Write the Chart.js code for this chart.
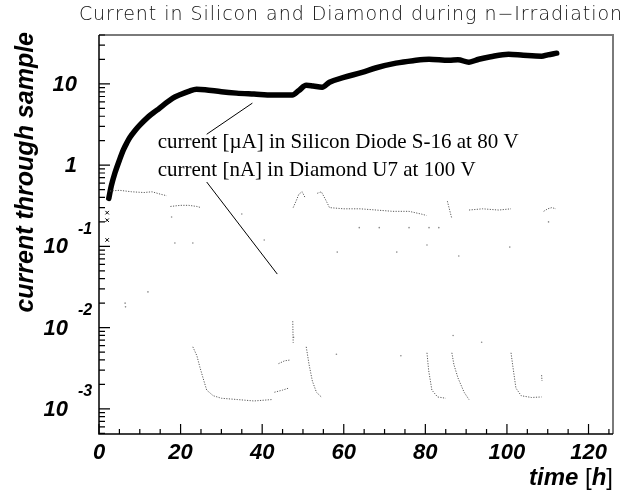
<!DOCTYPE html>
<html>
<head>
<meta charset="utf-8">
<script src="https://cdn.jsdelivr.net/npm/chart.js@4/dist/chart.umd.min.js"></script>
<style>
  html, body { margin: 0; padding: 0; background: #ffffff; }
  #wrap { width: 631px; height: 492px; }
</style>
</head>
<body>
<div id="wrap"><canvas id="c" width="631" height="492"></canvas></div>
<script>
// ---- labels ----
const chartTitle = 'Current in Silicon and Diamond during n\u2212Irradiation';
const yTitle = 'current through sample';
const legendLines = [
  'current [\u00b5A] in Silicon Diode S-16 at 80 V',
  'current [nA] in Diamond U7 at 100 V'
];

// ---- axes ----
const xMin = 0, xMax = 126;
const yMin = 4.9e-4, yMax = 40;
const xMajorTicks = [0, 20, 40, 60, 80, 100, 120];
const xTickLabels = ['0', '20', '40', '60', '80', '100', '120'];
const yDecades = [1, 0, -1, -2, -3];

// ---- silicon diode current [uA] vs time [h] ----
const siTime = [2.4, 3.0, 3.9, 5.0, 6.0, 6.8, 7.6, 8.8, 10, 12, 14.2, 16, 18.1, 20, 22, 23.9,
  26, 30, 33.7, 38, 42.6, 47.4, 49, 50.8, 52.5, 54.7, 56.5, 60, 64.5, 68, 72.8, 77, 80.9,
  85.8, 88, 90.7, 93.1, 96, 100.4, 104, 108.5, 110, 112.2];
const siCurrent = [0.39, 0.55, 0.80, 1.15, 1.55, 1.87, 2.2, 2.65, 3.1, 3.9, 4.75, 5.6, 6.7, 7.4, 8.1, 8.6,
  8.5, 8.0, 7.7, 7.5, 7.3, 7.3, 8.3, 9.6, 9.4, 9.1, 10.5, 12, 13.9, 15.8, 18, 19.3, 20.1,
  19.5, 19.8, 18.5, 20.1, 21.6, 23.2, 22.5, 21.9, 22.8, 23.9];

// early start-up readings
const startTime = [2.0, 2.0, 2.0];
const startCurrent = [0.26, 0.21, 0.12];

// ---- diamond current [nA]: separate recording runs ----
const diamondRuns = [
  { t: [2.7, 5, 8, 11, 13, 15, 16.6], i: [0.48, 0.49, 0.47, 0.46, 0.47, 0.44, 0.42] },
  { t: [17.5, 20, 22, 24, 25], i: [0.31, 0.32, 0.32, 0.31, 0.30] },
  { t: [47.6, 48.3, 49, 49.8, 50.5], i: [0.30, 0.36, 0.44, 0.47, 0.40] },
  { t: [53.5, 54.5, 55.5, 56.5, 60, 64, 68, 72, 76, 79, 80.3],
    i: [0.45, 0.47, 0.38, 0.30, 0.29, 0.29, 0.28, 0.27, 0.27, 0.25, 0.24] },
  { t: [85.4, 85.8, 86.2, 86.5], i: [0.36, 0.30, 0.25, 0.22] },
  { t: [90.7, 94, 98, 101], i: [0.28, 0.29, 0.28, 0.29] },
  { t: [109, 110, 111, 112], i: [0.27, 0.29, 0.30, 0.29] },
  { t: [23, 24, 24.7, 25.5, 26.4, 28, 30, 34, 38, 42.3],
    i: [5.8e-3, 4.5e-3, 3.3e-3, 2.4e-3, 1.7e-3, 1.45e-3, 1.35e-3, 1.3e-3, 1.25e-3, 1.3e-3] },
  { t: [43, 45, 46.5], i: [1.6e-3, 1.7e-3, 1.8e-3] },
  { t: [44, 45.5, 47], i: [3.6e-3, 3.9e-3, 4.0e-3] },
  { t: [47.5, 47.6], i: [1.2e-2, 6.5e-3] },
  { t: [50.8, 51.5, 52.3, 53.3, 54.5], i: [5.8e-3, 3.5e-3, 2.2e-3, 1.6e-3, 1.4e-3] },
  { t: [80.4, 80.8, 81.6, 83, 85], i: [4.9e-3, 3.0e-3, 1.7e-3, 1.4e-3, 1.35e-3] },
  { t: [86.5, 87, 88, 89.5, 90.7], i: [4.9e-3, 3.5e-3, 2.4e-3, 1.6e-3, 1.3e-3] },
  { t: [101, 101.5, 102.2, 103.5, 106, 108.5], i: [4.9e-3, 3.2e-3, 1.8e-3, 1.45e-3, 1.38e-3, 1.4e-3] },
  { t: [108.5, 108.6], i: [2.6e-3, 2.2e-3] }
];

// isolated diamond readings
const strayTime = [17.8, 18.6, 23, 6.4, 6.5, 12, 47.7, 58.2, 74, 86.8, 93.8, 58.4, 73, 80.4, 88.2,
  100.7, 110.2, 63.8, 68.7, 76, 80.9, 83.3, 35, 40.5];
const strayCurrent = [0.23, 0.11, 0.11, 0.02, 0.018, 0.0275, 7.6e-3, 4.7e-3, 4.5e-3, 8e-3, 6.6e-3,
  0.085, 0.085, 0.104, 0.076, 0.098, 0.2, 0.17, 0.17, 0.17, 0.17, 0.17, 0.25, 0.12];

// legend anchor (time, current) and pointer lines
const legendAnchor = { t: 14.4, i: [1.62, 0.73] };
const pointers = [
  { from: [26.4, 2.4], to: [37.6, 5.8] },
  { from: [26.4, 0.62], to: [43.7, 0.0456] }
];

// ---- build chart data ----
const siPoints = siTime.map((t, k) => ({ x: t, y: siCurrent[k] }));
const startPoints = startTime.map((t, k) => ({ x: t, y: startCurrent[k] }));
const diamondPoints = [];
diamondRuns.forEach((run, r) => {
  if (r > 0) diamondPoints.push({ x: run.t[0], y: null });
  run.t.forEach((t, k) => diamondPoints.push({ x: t, y: run.i[k] }));
});
const strayPoints = strayTime.map((t, k) => ({ x: t, y: strayCurrent[k] }));

const boldItalic = (s) => 'italic bold ' + s + 'px "Liberation Sans", Arial, sans-serif';

const framePlugin = {
  id: 'frame',
  afterDraw(chart) {
    const ctx = chart.ctx;
    const a = chart.chartArea;
    const xs = chart.scales.x, ys = chart.scales.y;
    ctx.save();

    // frame: top and right in grey, axis lines in black
    ctx.strokeStyle = '#7a7a7a';
    ctx.lineWidth = 2;
    ctx.beginPath();
    ctx.moveTo(a.left, a.top); ctx.lineTo(a.right, a.top); ctx.lineTo(a.right, a.bottom);
    ctx.stroke();
    ctx.strokeStyle = '#000';
    ctx.lineWidth = 1.5;
    ctx.beginPath();
    ctx.moveTo(a.left, a.top); ctx.lineTo(a.left, a.bottom); ctx.lineTo(a.right, a.bottom);
    ctx.stroke();

    // x ticks, pointing inwards
    ctx.lineWidth = 1.2;
    ctx.beginPath();
    for (let v = 0; v <= xMax; v += 5) {
      const px = xs.getPixelForValue(v);
      const len = (v % 20 === 0) ? 10 : 5;
      ctx.moveTo(px, a.bottom); ctx.lineTo(px, a.bottom - len);
    }
    // y ticks: decades and 2..9 subdivisions
    for (let e = -4; e <= 1; e++) {
      for (let m = 1; m <= 9; m++) {
        const v = m * Math.pow(10, e);
        if (v < yMin || v > yMax) continue;
        const py = ys.getPixelForValue(v);
        const len = (m === 1) ? 11 : 6;
        ctx.moveTo(a.left, py); ctx.lineTo(a.left + len, py);
      }
    }
    ctx.stroke();

    // x tick labels
    ctx.fillStyle = '#000';
    ctx.font = boldItalic(22);
    ctx.textAlign = 'center';
    ctx.textBaseline = 'alphabetic';
    xMajorTicks.forEach((v, k) => {
      ctx.fillText(xTickLabels[k], xs.getPixelForValue(v), a.bottom + 25);
    });

    // y tick labels: powers of ten
    ctx.textBaseline = 'middle';
    yDecades.forEach((e) => {
      const py = ys.getPixelForValue(Math.pow(10, e)) + 1;
      ctx.font = boldItalic(22);
      if (e === 1 || e === 0) {
        ctx.textAlign = 'right';
        ctx.fillText(e === 1 ? '10' : '1', a.left - 22, py);
      } else {
        ctx.textAlign = 'right';
        ctx.fillText('10', a.left - 31, py);
        ctx.font = boldItalic(16);
        ctx.textAlign = 'left';
        ctx.fillText('-' + Math.abs(e), a.left - 21, py - 18);
      }
    });

    // axis titles
    ctx.textBaseline = 'alphabetic';
    ctx.font = boldItalic(25);
    ctx.save();
    ctx.translate(33, a.top - 3);
    ctx.rotate(-Math.PI / 2);
    ctx.textAlign = 'right';
    ctx.fillText(yTitle, 0, 0);
    ctx.restore();

    // x title: time [h] with upright brackets
    const parts = [
      { s: 'time ', f: boldItalic(24) },
      { s: '[', f: '24px "Liberation Sans", Arial, sans-serif' },
      { s: 'h', f: boldItalic(24) },
      { s: ']', f: '24px "Liberation Sans", Arial, sans-serif' }
    ];
    let total = 0;
    parts.forEach((p) => { ctx.font = p.f; p.w = ctx.measureText(p.s).width; total += p.w; });
    let cx = a.right - total;
    ctx.textAlign = 'left';
    parts.forEach((p) => { ctx.font = p.f; ctx.fillText(p.s, cx, a.bottom + 51); cx += p.w; });

    // chart title, thin and widely spaced
    ctx.font = '200 19px "DejaVu Sans", "Noto Sans", sans-serif';
    ctx.letterSpacing = '0.95px';
    ctx.textAlign = 'right';
    ctx.fillStyle = '#111';
    ctx.fillText(chartTitle, 623, 20);
    ctx.letterSpacing = '0px';

    // legend text and pointer lines
    ctx.fillStyle = '#000';
    ctx.font = '21px "Liberation Serif", "Times New Roman", serif';
    ctx.textAlign = 'left';
    const lx = xs.getPixelForValue(legendAnchor.t);
    legendLines.forEach((txt, k) => {
      ctx.fillText(txt, lx, ys.getPixelForValue(legendAnchor.i[k]));
    });
    ctx.strokeStyle = '#000';
    ctx.lineWidth = 1;
    ctx.beginPath();
    pointers.forEach((p) => {
      ctx.moveTo(xs.getPixelForValue(p.from[0]), ys.getPixelForValue(p.from[1]));
      ctx.lineTo(xs.getPixelForValue(p.to[0]), ys.getPixelForValue(p.to[1]));
    });
    ctx.stroke();
    ctx.restore();
  }
};

new Chart(document.getElementById('c'), {
  type: 'line',
  data: {
    datasets: [
      {
        label: 'diamond',
        data: diamondPoints,
        borderColor: '#5a5a5a',
        borderWidth: 1,
        borderDash: [1.2, 1.4],
        pointRadius: 0,
        spanGaps: false,
        tension: 0
      },
      {
        label: 'diamond stray',
        type: 'scatter',
        data: strayPoints,
        backgroundColor: '#888',
        borderWidth: 0,
        pointRadius: 0.8
      },
      {
        label: 'silicon',
        data: siPoints,
        borderColor: '#000',
        borderWidth: 5.5,
        borderCapStyle: 'round',
        borderJoinStyle: 'round',
        pointRadius: 0,
        tension: 0.25,
        cubicInterpolationMode: 'monotone'
      },
      {
        label: 'start',
        type: 'scatter',
        data: startPoints,
        pointStyle: 'crossRot',
        pointRadius: 2.5,
        borderColor: '#000',
        borderWidth: 1
      }
    ]
  },
  options: {
    responsive: false,
    animation: false,
    events: [],
    layout: { padding: { top: 35, right: 18, left: 0, bottom: 0 } },
    plugins: { legend: { display: false }, tooltip: { enabled: false }, title: { display: false } },
    scales: {
      x: {
        type: 'linear', min: xMin, max: xMax,
        ticks: { display: false }, grid: { display: false }, border: { display: false },
        afterFit(scale) { scale.height = 58; }
      },
      y: {
        type: 'logarithmic', min: yMin, max: yMax,
        ticks: { display: false }, grid: { display: false }, border: { display: false },
        afterFit(scale) { scale.width = 99; }
      }
    }
  },
  plugins: [framePlugin]
});
</script>
</body>
</html>
